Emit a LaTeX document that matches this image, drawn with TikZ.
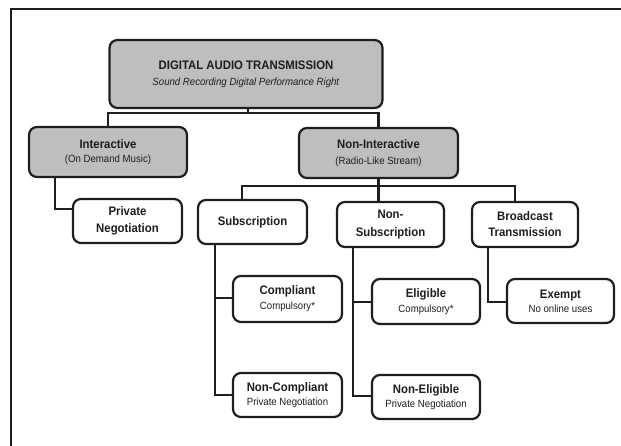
\documentclass[tikz,border=0pt]{standalone}
\usepackage{fontspec}
\setmainfont[FakeStretch=0.92]{Liberation Sans}
\definecolor{boxgray}{RGB}{190,190,190}
\definecolor{ink}{RGB}{30,30,30}
\newcommand{\hd}[1]{{\fontsize{12.4}{15}\selectfont\bfseries #1}}
\begin{document}
\begin{tikzpicture}[x=1bp,y=-1bp,
  box/.style={draw=ink, line width=2.2bp, rounded corners=8bp, fill=white, align=center,
    inner sep=0pt, text=ink, font=\fontsize{10.5}{15}\selectfont},
  graybox/.style={box, fill=boxgray},
  twobold/.style={font=\fontsize{12.4}{#1}\selectfont\bfseries},
  conn/.style={draw=ink, line width=2.2bp},
  frame/.style={draw=ink, line width=2.6bp}]
\useasboundingbox (0,0) rectangle (621,446);
\clip (0,0) rectangle (621,446);
\draw[frame] (11,470) -- (11,9) -- (650,9);

% boxes
\node[graybox, minimum width=273bp, minimum height=68bp, font=\fontsize{10.5}{16}\selectfont]
  (top) at (246,74) {\hd{DIGITAL AUDIO TRANSMISSION}\\\textit{Sound Recording Digital Performance Right}};
\node[graybox, minimum width=158bp, minimum height=50bp, font=\fontsize{10.5}{14}\selectfont]
  (inter) at (108,152) {\hd{Interactive}\\(On Demand Music)};
\node[graybox, minimum width=159bp, minimum height=50bp, font=\fontsize{10.5}{16.5}\selectfont]
  (nonint) at (378.5,153) {\hd{Non-Interactive}\\(Radio-Like Stream)};
\node[box, twobold=17, minimum width=109bp, minimum height=44bp]
  (priv) at (127.5,221) {Private\\Negotiation};
\node[box, twobold=17, minimum width=109bp, minimum height=44bp]
  (sub) at (252.5,222) {Subscription};
\node[box, twobold=18, minimum width=107bp, minimum height=45bp]
  (nonsub) at (390.5,224.5) {Non-\\Subscription};
\node[box, twobold=16, minimum width=106bp, minimum height=45bp]
  (broad) at (525,224.5) {Broadcast\\Transmission};
\node[box, minimum width=109bp, minimum height=46bp]
  (comp) at (287.5,299) {\hd{Compliant}\\Compulsory*};
\node[box, minimum width=109bp, minimum height=44bp, font=\fontsize{10.5}{14}\selectfont]
  (noncomp) at (287.5,395) {\hd{Non-Compliant}\\Private Negotiation};
\node[box, minimum width=108bp, minimum height=45bp]
  (elig) at (426,301.5) {\hd{Eligible}\\Compulsory*};
\node[box, minimum width=108bp, minimum height=44bp, font=\fontsize{10.5}{14}\selectfont]
  (nonelig) at (426,397) {\hd{Non-Eligible}\\Private Negotiation};
\node[box, minimum width=107bp, minimum height=44bp, font=\fontsize{10.5}{14}\selectfont]
  (exempt) at (560.5,301) {\hd{Exempt}\\No online uses};

% connectors
\coordinate (j1) at (248,113);
\draw[conn] (top.south -| j1) -- (j1);
\draw[conn] (inter.north) |- (j1) -| (nonint.north);

\coordinate (j2) at (242,186);
\coordinate (j3) at (515,186);
\draw[conn] (nonint.south) -- (nonsub.north -| nonint.south);
\draw[conn] (sub.north -| j2) -- (j2) -- (j3) -- (broad.north -| j3);

\coordinate (k1) at (55,209);
\draw[conn] (inter.south -| k1) -- (k1) -- (priv.west |- k1);

\coordinate (s1) at (215,298);
\coordinate (s2) at (215,395);
\draw[conn] (sub.south -| s1) -- (s2) -- (noncomp.west |- s2);
\draw[conn] (s1) -- (comp.west |- s1);

\coordinate (n1) at (353,302);
\coordinate (n2) at (353,396);
\draw[conn] (nonsub.south -| n1) -- (n2) -- (nonelig.west |- n2);
\draw[conn] (n1) -- (elig.west |- n1);

\coordinate (b1) at (488,302);
\draw[conn] (broad.south -| b1) -- (b1) -- (exempt.west |- b1);
\end{tikzpicture}
\end{document}
